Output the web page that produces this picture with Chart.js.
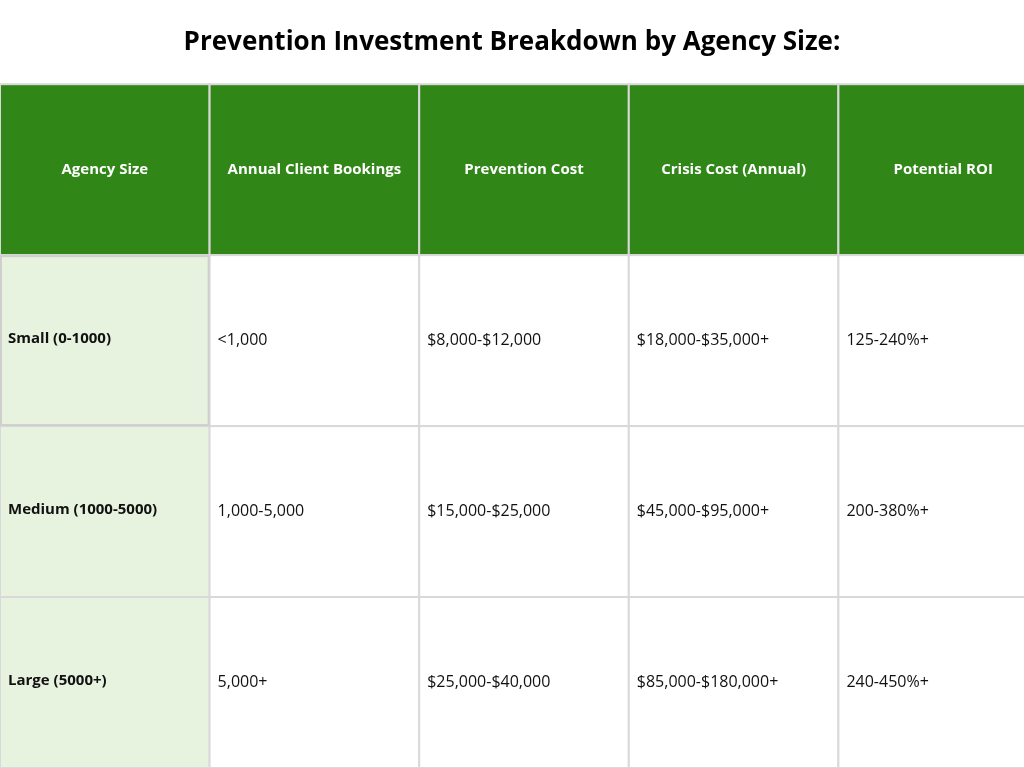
<!DOCTYPE html>
<html><head><meta charset="utf-8">
<script src="https://cdn.jsdelivr.net/npm/chart.js@4"></script>
<style>html,body{margin:0;padding:0;background:#fff}#w{width:1024px;height:768px}</style>
</head><body><div id="w"><canvas id="c"></canvas></div>
<script>
const title = "Prevention Investment Breakdown by Agency Size:";
const headers = ["Agency Size","Annual Client Bookings","Prevention Cost","Crisis Cost (Annual)","Potential ROI"];
const agencySizes = ["Small (0-1000)","Medium (1000-5000)","Large (5000+)"];
const bookings = ["<1,000","1,000-5,000","5,000+"];
const preventionCost = ["$8,000-$12,000","$15,000-$25,000","$25,000-$40,000"];
const crisisCost = ["$18,000-$35,000+","$45,000-$95,000+","$85,000-$180,000+"];
const roi = ["125-240%+","200-380%+","240-450%+"];

const columns = [agencySizes, bookings, preventionCost, crisisCost, roi];
const nCols = headers.length, nRows = agencySizes.length + 1;

const tablePlugin = {
  id: 'table',
  afterDatasetsDraw(chart) {
    const {ctx, scales:{x,y}} = chart;
    const px = v => x.getPixelForValue(v), py = v => y.getPixelForValue(v);
    ctx.save();
    for (let r = 0; r < nRows; r++) {
      for (let c = 0; c < nCols; c++) {
        const x0 = px(c), x1 = px(c+1), y0 = py(r), y1 = py(r+1);
        let fill = '#fff';
        if (r === 0) fill = '#318618';
        else if (c === 0) fill = '#e8f3df';
        ctx.fillStyle = fill;
        ctx.fillRect(x0, y0, x1-x0, y1-y0);
        ctx.strokeStyle = '#d9d9d9'; ctx.lineWidth = 2;
        ctx.strokeRect(x0, y0, x1-x0, y1-y0);
        ctx.textBaseline = 'middle';
        const cy = (y0+y1)/2;
        if (r === 0) {
          ctx.fillStyle = '#fff'; ctx.font = 'bold 15px "Open Sans"'; ctx.textAlign = 'center';
          ctx.fillText(headers[c], (x0+x1)/2, cy);
        } else {
          const t = columns[c][r-1];
          ctx.fillStyle = '#111'; ctx.textAlign = 'left';
          ctx.font = (c === 0 ? 'bold 15px' : '16px') + ' "Open Sans"';
          ctx.fillText(t, x0 + 8, c === 0 ? cy - 2 : cy);
        }
      }
    }
    ctx.strokeStyle = '#cfcfcf'; ctx.lineWidth = 2;
    ctx.strokeRect(px(0)+1, py(1)+1, px(1)-px(0)-2, py(2)-py(1)-2);
    ctx.restore();
  }
};

new Chart(document.getElementById('c'), {
  type: 'scatter',
  data: { datasets: [{ data: [] }] },
  options: {
    responsive: true, maintainAspectRatio: false, animation: false,
    layout: { padding: 0 },
    plugins: {
      legend: { display: false }, tooltip: { enabled: false },
      title: { display: true, text: title, color: '#000',
        font: { family: '"Open Sans"', size: 26, weight: 'bold', lineHeight: 1.2 },
        padding: { top: 27, bottom: 26 } }
    },
    scales: {
      x: { type: 'linear', display: false, min: 0, max: 1024/209.6 },
      y: { type: 'linear', display: false, min: 0, max: 4, reverse: true }
    }
  },
  plugins: [tablePlugin]
});
</script></body></html>
